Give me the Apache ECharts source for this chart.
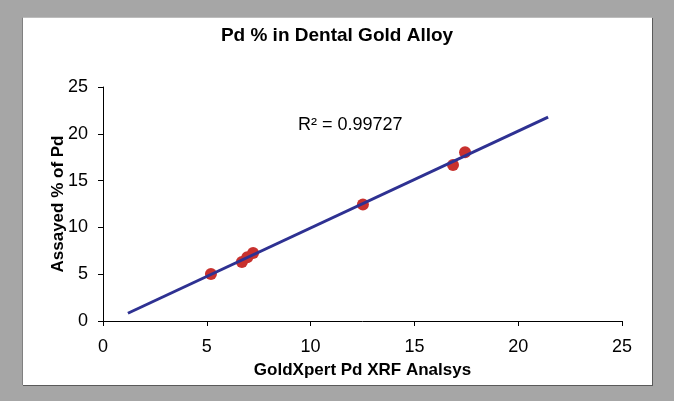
<!DOCTYPE html>
<html><head><meta charset="utf-8">
<script src="https://cdn.jsdelivr.net/npm/echarts@6/dist/echarts.min.js"></script>
<style>
html,body{margin:0;padding:0;background:#a6a6a6;width:674px;height:401px;overflow:hidden;}
#panel{position:absolute;left:22px;top:17px;width:629px;height:367px;background:#fff;border-left:1px solid #808080;border-top:1px solid #bdbdbd;box-shadow:1px 1px 0 #5a5a5a;}
#chart{position:absolute;left:0;top:0;width:674px;height:401px;}
</style></head>
<body><div id="panel"></div><div id="chart"></div>
<script>
const xrfValues = [5.20, 6.69, 6.95, 7.23, 12.52, 16.86, 17.44];
const assayValues = [5.02, 6.30, 6.80, 7.26, 12.45, 16.67, 18.02];
const xTicks = [0, 5, 10, 15, 20, 25];
const yTicks = [0, 5, 10, 15, 20, 25];
const titleText = 'Pd % in Dental Gold Alloy';
const xName = 'GoldXpert Pd XRF Analsys';
const yName = 'Assayed % of Pd';
const r2Label = 'R² = 0.99727';
const forecast = 4;

// least squares trendline
const n = xrfValues.length;
const mx = xrfValues.reduce((a,b)=>a+b,0)/n;
const my = assayValues.reduce((a,b)=>a+b,0)/n;
let sxy=0, sxx=0;
for (let i=0;i<n;i++){ sxy += (xrfValues[i]-mx)*(assayValues[i]-my); sxx += (xrfValues[i]-mx)**2; }
const slope = sxy/sxx, icpt = my - slope*mx;
const x0 = Math.min(...xrfValues)-forecast, x1 = Math.max(...xrfValues)+forecast;
const trend = [[x0, slope*x0+icpt],[x1, slope*x1+icpt]];

const font = '"Liberation Sans", Arial, sans-serif';
const chart = echarts.init(document.getElementById('chart'), null, {renderer:'canvas'});
chart.setOption({
  backgroundColor: 'transparent',
  animation: false,
  title: { text: titleText, left: 'center', top: 21,
    textStyle: { fontFamily: font, fontSize: 19, fontWeight: 'bold', color: '#000' } },
  grid: { left: 103, right: 52, top: 87, bottom: 80 },
  xAxis: { type: 'value', min: xTicks[0], max: xTicks[xTicks.length-1], interval: 5,
    name: xName, nameLocation: 'middle', nameGap: 41, nameMoveOverlap: false,
    nameTextStyle: { fontFamily: font, fontSize: 17, fontWeight: 'bold', color: '#000' },
    axisLine: { show: true, onZero: false, lineStyle: { color: '#000', width: 1 } },
    axisTick: { show: true, inside: false, length: 5, lineStyle: { color: '#000' } },
    axisLabel: { fontFamily: font, fontSize: 18, color: '#000', margin: 17 },
    splitLine: { show: false } },
  yAxis: { type: 'value', min: yTicks[0], max: yTicks[yTicks.length-1], interval: 5,
    name: yName, nameLocation: 'middle', nameGap: 36, nameMoveOverlap: false,
    nameTextStyle: { fontFamily: font, fontSize: 17, fontWeight: 'bold', color: '#000' },
    axisLine: { show: true, onZero: false, lineStyle: { color: '#000', width: 1 } },
    axisTick: { show: true, inside: false, length: 5, lineStyle: { color: '#000' } },
    axisLabel: { fontFamily: font, fontSize: 18, color: '#000', margin: 15 },
    splitLine: { show: false } },
  series: [
    { type: 'scatter', data: xrfValues.map((x,i)=>[x, assayValues[i]]), symbolSize: 12,
      itemStyle: { color: '#c8312e', opacity: 1 }, z: 2 },
    { type: 'line', data: trend, symbol: 'none', lineStyle: { color: '#2e3192', width: 3 }, z: 3 }
  ],
  graphic: [
    { type: 'text', left: 298, top: 116, z: 10,
      style: { text: r2Label, font: '18px ' + font, fill: '#000' } }
  ]
});
</script></body></html>
